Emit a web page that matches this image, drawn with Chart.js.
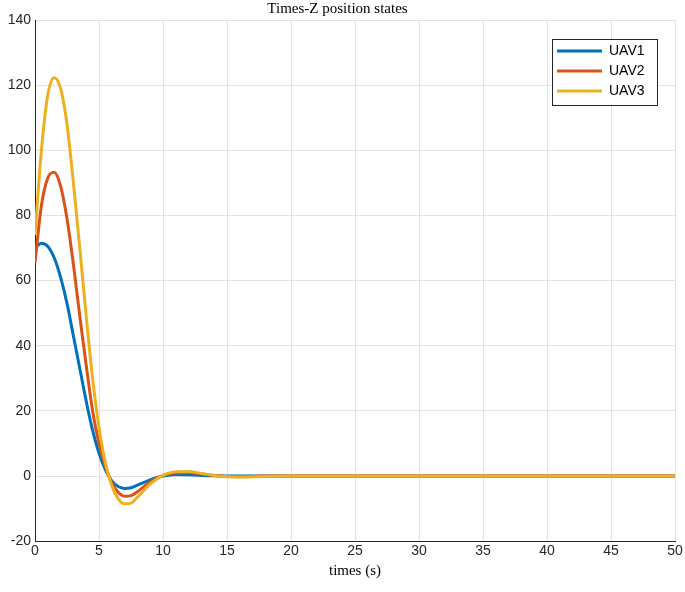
<!DOCTYPE html>
<html>
<head>
  <script src="https://cdn.jsdelivr.net/npm/chart.js"></script>
  <style>body{margin:0;background:#fff}#wrap{width:685px;height:592px}</style>
</head>
<body>
<div id="wrap"><canvas id="chart"></canvas></div>
<script>
const times = [0,0.5,1,1.5,2,2.5,3,3.5,4,4.5,5,5.5,6,6.5,7,7.5,8,9,10,11,12,13,14,15,16,18,20,30,40,50];
const uav1 = [70,71.5,70.5,67,61,53,43,33,23,14,7,2,-1.5,-3.2,-3.8,-3.6,-2.8,-1.2,0,0.5,0.4,0.2,0.1,0,0,0,0,0,0,0];
const uav2 = [65.5,83,91.5,93.3,89,79,65,49,34,20,10,3,-2,-5,-6.2,-6,-4.8,-1.8,0.2,1,1.1,0.6,0.2,-0.1,-0.2,0,0,0,0,0];
const uav3 = [74,100,117,122.3,119,108,90,70,49,30,15,4,-3,-7,-8.5,-8.3,-6.5,-2.5,0.2,1.3,1.4,0.8,0.2,-0.2,-0.3,-0.1,0,0,0,0];
const names = ['UAV1','UAV2','UAV3'];
const colors = ['#0072BD','#D95319','#EDB120'];

const pts = arr => arr.map((y, i) => ({x: times[i], y}));
const serif = "'Liberation Serif', 'DejaVu Serif', serif";
const sans = "'Liberation Sans', Arial, sans-serif";

const legendBox = {
  id: 'legendBox',
  afterDraw(c) {
    const g = c.ctx, a = c.chartArea;
    const x = a.right - 123, y = a.top + 19, w = 105, h = 66;
    g.save();
    g.fillStyle = '#fff'; g.fillRect(x, y, w, h);
    g.strokeStyle = '#262626'; g.lineWidth = 1; g.strokeRect(x + 0.5, y + 0.5, w, h);
    g.font = '14px ' + sans; g.textBaseline = 'middle';
    names.forEach((n, i) => {
      const yy = y + 12 + i * 20;
      g.strokeStyle = colors[i]; g.lineWidth = 3;
      g.beginPath(); g.moveTo(x + 5, yy); g.lineTo(x + 50, yy); g.stroke();
      g.fillStyle = '#000'; g.fillText(n, x + 57, yy);
    });
    g.restore();
  }
};

new Chart(document.getElementById('chart'), {
  type: 'line',
  data: {
    datasets: names.map((n, i) => ({
      label: n, data: pts([uav1, uav2, uav3][i]), borderColor: colors[i], order: 3 - i,
      borderWidth: 3, pointRadius: 0, fill: false, cubicInterpolationMode: 'monotone'
    }))
  },
  options: {
    responsive: true, maintainAspectRatio: false, animation: false,
    layout: {padding: {top: 0, right: 10, left: 0, bottom: 6}},
    plugins: {
      legend: {display: false},
      title: {display: true, text: 'Times-Z position states', color: '#000',
        font: {family: serif, size: 15, weight: 'normal'}, padding: {top: 0, bottom: 2}}
    },
    scales: {
      x: {
        type: 'linear', min: 0, max: 50,
        ticks: {stepSize: 5, color: '#262626', font: {family: sans, size: 14}, maxRotation: 0, padding: 2},
        grid: {color: '#e3e3e3', tickLength: 0},
        border: {color: '#262626'},
        title: {display: true, text: 'times (s)', color: '#000', font: {family: serif, size: 15}, padding: {top: 0, bottom: 6}}
      },
      y: {
        min: -20, max: 140,
        ticks: {stepSize: 20, color: '#262626', font: {family: sans, size: 14}, padding: 4},
        grid: {color: '#e3e3e3', tickLength: 0},
        border: {color: '#262626'},
        afterFit(s) { s.width = 35; }
      }
    }
  },
  plugins: [legendBox]
});
</script>
</body>
</html>
